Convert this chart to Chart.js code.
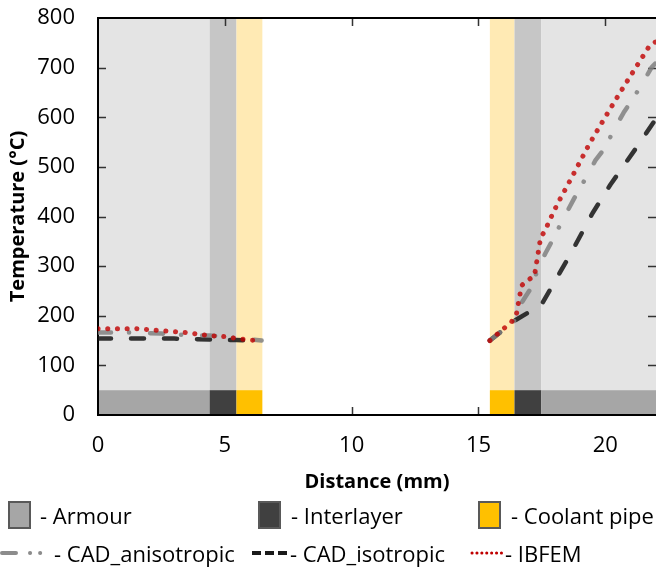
<!DOCTYPE html>
<html>
<head>
<meta charset="utf-8">
<script src="https://cdn.jsdelivr.net/npm/chart.js@4.4.1/dist/chart.umd.min.js"></script>
<style>
  html, body { margin: 0; padding: 0; background: #fff; }
  #wrap { position: relative; width: 657px; height: 570px; font-family: 'Open Sans', sans-serif; }
  #wrap canvas { position: absolute; left: 0; top: 0; }
  .lg { position: absolute; font-size: 22px; line-height: 28px; color: #000; white-space: nowrap; }
  .box { position: absolute; width: 23px; height: 28px; box-sizing: border-box; border: 2px solid #595959; }
  svg.sample { position: absolute; overflow: visible; }
</style>
</head>
<body>
<div id="wrap">
  <canvas id="tempChart" width="657" height="570"></canvas>

  <div class="box" style="left:8px; top:501px; background:#a6a6a6"></div>
  <div class="lg" style="left:40px; top:501px">- Armour</div>
  <div class="box" style="left:258px; top:501px; background:#404040"></div>
  <div class="lg" style="left:291px; top:501px">- Interlayer</div>
  <div class="box" style="left:478px; top:501px; background:#ffc000"></div>
  <div class="lg" style="left:511px; top:501px">- Coolant pipe</div>

  <svg class="sample" style="left:0; top:548px" width="52" height="10">
    <line x1="2" y1="5" x2="52" y2="5" stroke="rgba(128,128,128,0.9)" stroke-width="4" stroke-linecap="round" stroke-dasharray="14 14 0.1 10 0.1 30"/>
  </svg>
  <div class="lg" style="left:54px; top:539px">- CAD_anisotropic</div>
  <svg class="sample" style="left:250px; top:548px" width="40" height="10">
    <line x1="2" y1="5" x2="40" y2="5" stroke="#1a1a1a" stroke-width="4" stroke-dasharray="9 4"/>
  </svg>
  <div class="lg" style="left:290px; top:539px">- CAD_isotropic</div>
  <svg class="sample" style="left:470px; top:548px" width="34" height="10">
    <line x1="2" y1="5" x2="34" y2="5" stroke="#c00000" stroke-width="3" stroke-linecap="round" stroke-dasharray="0.1 4.8"/>
  </svg>
  <div class="lg" style="left:505px; top:539px">- IBFEM</div>
</div>

<script>
// temperature profiles, x in mm, y in degC (null = gap across the channel)
const ibfemX = [0, 1.5, 2.5, 3.5, 4.4, 5.0, 5.5, 6.0, 6.45, 11,
  15.45, 16.31, 16.5, 16.7, 16.94, 17.21, 17.45, 17.64, 17.8, 18.12, 18.67, 19.37, 19.96, 20.55, 21.15, 21.77, 22];
const ibfemY = [174, 174, 170, 166, 160, 158, 154, 151, 150, null,
  150, 188, 204, 261, 271, 281, 357, 373, 392, 426, 478, 546, 597, 647, 696, 746, 752];

const anisoX = [0, 1.3, 2.5, 3.5, 4.4, 5.0, 5.46, 6.45, 11,
  15.45, 16.42, 16.7, 17.1, 17.33, 17.64, 17.96, 18.27, 18.79, 19.26, 19.61, 20.0, 20.32, 20.72, 21.03, 21.42, 21.82, 22];
const anisoY = [166, 166, 164, 161, 160, 158, 155, 150, null,
  150, 190, 226, 258, 293, 326, 356, 388, 438, 480, 513, 539, 573, 609, 633, 664, 700, 710];

const isoX = [0, 3, 4.4, 5.46, 6.45, 11,
  15.45, 16.42, 17.48, 18.55, 19.49, 20.2, 21.34, 22];
const isoY = [154, 154, 152, 151, 150, null,
  150, 190, 222, 317, 406, 464, 547, 597];

// material layers along x (mm)
const layerStart = [0, 4.4, 5.46, 15.45, 16.42, 17.48];
const layerEnd = [4.4, 5.46, 6.48, 16.42, 17.48, 22];
const layerKind = [0, 1, 2, 2, 1, 0]; // 0 armour, 1 interlayer, 2 coolant pipe
const stripTop = 50;

const LIGHT = ['#e4e4e4', '#c6c6c6', '#ffeab4'];
const DARK = ['#a6a6a6', '#404040', '#ffc000'];

function pts(xs, ys) {
  return xs.map((v, i) => ({x: v, y: ys[i]}));
}

const layersPlugin = {
  id: 'layers',
  beforeDatasetsDraw(chart) {
    const {ctx, chartArea: a, scales: {x, y}} = chart;
    const yTop = y.getPixelForValue(y.max), yStrip = y.getPixelForValue(stripTop), yZero = y.getPixelForValue(0);
    ctx.save();
    layerStart.forEach((s, i) => {
      const x0 = x.getPixelForValue(s), x1 = x.getPixelForValue(layerEnd[i]);
      ctx.fillStyle = LIGHT[layerKind[i]];
      ctx.fillRect(x0, yTop, x1 - x0, yStrip - yTop);
    });

    // inward tick marks on all four sides
    ctx.strokeStyle = '#333';
    ctx.lineWidth = 1.5;
    ctx.beginPath();
    y.ticks.forEach(t => {
      if (t.value <= 0 || t.value >= y.max) return;
      const py = Math.round(y.getPixelForValue(t.value)) + 0.5;
      ctx.moveTo(a.left, py); ctx.lineTo(a.left + 8, py);
      ctx.moveTo(a.right, py); ctx.lineTo(a.right - 8, py);
    });
    x.ticks.forEach(t => {
      if (t.value <= 0) return;
      const px = Math.round(x.getPixelForValue(t.value)) + 0.5;
      ctx.moveTo(px, a.top); ctx.lineTo(px, a.top + 8);
      ctx.moveTo(px, a.bottom); ctx.lineTo(px, a.bottom - 8);
    });
    ctx.stroke();

    layerStart.forEach((s, i) => {
      const x0 = x.getPixelForValue(s), x1 = x.getPixelForValue(layerEnd[i]);
      ctx.fillStyle = DARK[layerKind[i]];
      ctx.fillRect(x0, yStrip, x1 - x0, yZero - yStrip);
    });

    // frame: left, top, bottom
    ctx.strokeStyle = '#000';
    ctx.lineWidth = 2;
    ctx.beginPath();
    ctx.moveTo(a.right, a.top); ctx.lineTo(a.left, a.top);
    ctx.lineTo(a.left, a.bottom); ctx.lineTo(a.right, a.bottom);
    ctx.stroke();
    ctx.restore();
  }
};

Chart.defaults.font.family = "'Open Sans', sans-serif";
Chart.defaults.color = '#000';

const tempChart = new Chart(document.getElementById('tempChart'), {
  type: 'line',
  data: {
    datasets: [
      {
        label: 'IBFEM',
        data: pts(ibfemX, ibfemY),
        borderColor: 'rgba(192,0,0,0.8)',
        borderWidth: 5,
        borderDash: [0.1, 9.6],
        borderCapStyle: 'round'
      },
      {
        label: 'CAD_anisotropic',
        data: pts(anisoX, anisoY),
        borderColor: 'rgba(128,128,128,0.85)',
        borderWidth: 4.5,
        borderDash: [13, 18, 0.1, 21],
        borderCapStyle: 'round'
      },
      {
        label: 'CAD_isotropic',
        data: pts(isoX, isoY),
        borderColor: 'rgba(20,20,20,0.85)',
        borderWidth: 4.5,
        borderDash: [13, 20],
        borderCapStyle: 'round'
      }
    ]
  },
  options: {
    responsive: false,
    animation: false,
    elements: {point: {radius: 0}, line: {tension: 0, fill: false, borderJoinStyle: 'round'}},
    layout: {padding: {top: 18, right: 1, bottom: 75.5, left: 0}},
    plugins: {legend: {display: false}, tooltip: {enabled: false}},
    scales: {
      x: {
        type: 'linear',
        min: 0,
        max: 22,
        grid: {display: false, drawTicks: false},
        border: {display: false},
        ticks: {stepSize: 5, includeBounds: false, padding: 18, font: {size: 22}},
        title: {display: true, text: 'Distance (mm)', font: {size: 20, weight: 'bold'}, padding: {top: 0, bottom: 0}},
        afterFit(s) { s.height = 79.5; s.paddingLeft = 0; s.paddingRight = 0; }
      },
      y: {
        min: 0,
        max: 800,
        grid: {display: false, drawTicks: false},
        border: {display: false},
        ticks: {stepSize: 100, padding: 23, font: {size: 22}},
        title: {display: true, text: 'Temperature (°C)', font: {size: 20, weight: 'bold'}, padding: {top: 6, bottom: 0}},
        afterFit(s) { s.width = 98; s.paddingTop = 0; s.paddingBottom = 0; }
      }
    }
  },
  plugins: [layersPlugin]
});
</script>
</body>
</html>
